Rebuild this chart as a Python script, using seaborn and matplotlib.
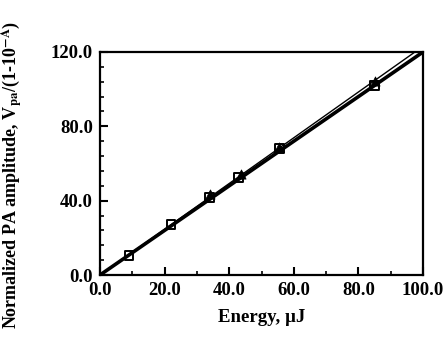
import matplotlib
matplotlib.use("Agg")
import matplotlib.pyplot as plt
from matplotlib.ticker import MultipleLocator, FormatStrFormatter
import seaborn as sns
import pandas as pd

# ── Data ──────────────────────────────────────────────────────────
energy_sq = [9.0, 22.0, 34.0, 43.0, 55.5, 85.0]
amp_sq = [10.5, 27.0, 41.5, 52.5, 68.0, 102.0]
energy_tri = [34.0, 43.5, 55.5, 85.0]
amp_tri = [43.5, 54.5, 69.0, 104.5]
fit_main_x = [0.0, 100.0]
fit_main_y = [0.0, 120.0]
fit_alt_x = [0.0, 97.5]
fit_alt_y = [0.0, 120.0]

# ── Style ─────────────────────────────────────────────────────────
sns.set_theme(style="ticks")
plt.rcParams["font.family"] = ["Liberation Serif", "DejaVu Serif"]
plt.rcParams["mathtext.fontset"] = "stix"
plt.rcParams["text.color"] = "black"
plt.rcParams["axes.labelcolor"] = "black"

fig, ax = plt.subplots(figsize=(4.43, 3.40), dpi=100)
fig.subplots_adjust(left=100 / 443, right=423 / 443, bottom=1 - 275 / 340, top=1 - 52 / 340)

sns.lineplot(x=fit_alt_x, y=fit_alt_y, ax=ax, color="black", linewidth=1.0)
sns.lineplot(x=fit_main_x, y=fit_main_y, ax=ax, color="black", linewidth=2.6)
sns.scatterplot(x=energy_sq, y=amp_sq, ax=ax, marker="s", s=40,
                facecolor="none", edgecolor="black", linewidth=1.4, zorder=3)
sns.scatterplot(x=energy_tri, y=amp_tri, ax=ax, marker="^", s=44,
                color="black", edgecolor="black", zorder=3)

ax.set_xlim(0, 100)
ax.set_ylim(0, 120)
ax.xaxis.set_major_locator(MultipleLocator(20))
ax.xaxis.set_minor_locator(MultipleLocator(10))
ax.yaxis.set_major_locator(MultipleLocator(40))
ax.yaxis.set_minor_locator(MultipleLocator(8))
ax.xaxis.set_major_formatter(FormatStrFormatter("%.1f"))
ax.yaxis.set_major_formatter(FormatStrFormatter("%.1f"))
ax.tick_params(which="major", direction="in", length=6, width=1.5,
               labelsize=13.5, pad=5, color="black", labelcolor="black")
ax.tick_params(which="minor", direction="in", length=3, width=1.2, color="black")
for lbl in ax.get_xticklabels() + ax.get_yticklabels():
    lbl.set_fontweight("bold")
for sp in ax.spines.values():
    sp.set_linewidth(1.6)
    sp.set_color("black")

ax.set_xlabel("Energy, µJ", fontsize=13.5, fontweight="bold", labelpad=7)
ax.set_ylabel(r"Normalized PA amplitude, V$_{\mathbf{pa}}$/(1-10$^{\mathbf{-A}}$)",
              fontsize=13, fontweight="bold")
ax.yaxis.set_label_coords(-0.232, 0.45)

fig.savefig("out.png", dpi=100)
plt.close(fig)
